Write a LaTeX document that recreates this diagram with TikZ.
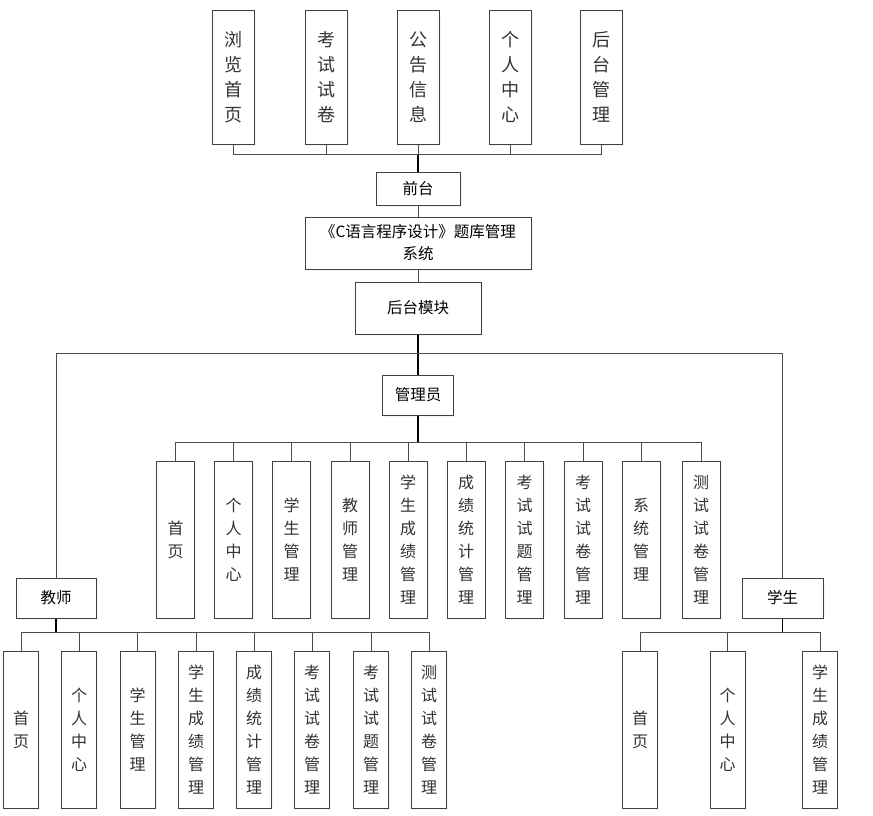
\documentclass[tikz,border=0pt]{standalone}
\usepackage{fontspec}
\setmainfont{Noto Sans CJK SC}
\usetikzlibrary{shadows}
\tikzstyle{link} = [draw=black!70, line width=1pt]
\tikzstyle{trunk} = [draw=black, line width=1.8pt]

\begin{document}
\begin{tikzpicture}[
			x=1pt, y=-1pt,
			every node/.style={draw=black!75, line width=1pt, fill=white, inner sep=0pt, align=center,
				drop shadow={shadow xshift=1.5pt, shadow yshift=-1.5pt, opacity=0.25, fill=blue!15}},
			hbox/.style={font=\fontsize{15.5}{22}\selectfont},
			vtop/.style={minimum width=42pt, minimum height=134pt, font=\fontsize{18}{25}\selectfont, text=black!80},
			vadm/.style={minimum width=38pt, minimum height=157pt, font=\fontsize{16}{23}\selectfont, text=black!80},
			vlow/.style={minimum width=35pt, minimum height=157pt, font=\fontsize{16}{23}\selectfont, text=black!80}
			]
			\useasboundingbox (0,0) rectangle (873,815);
			
			% Front-end pages
			\node[vtop] (q1) at (233,77) {浏\\览\\首\\页};
			\node[vtop] (q2) at (326,77) {考\\试\\试\\卷};
			\node[vtop] (q3) at (418,77) {公\\告\\信\\息};
			\node[vtop] (q4) at (510,77) {个\\人\\中\\心};
			\node[vtop] (q5) at (601,77) {后\\台\\管\\理};
			
			% Main column
			\node[hbox, minimum width=84pt, minimum height=33pt] (qt) at (418,188.5) {前台};
			\node[hbox, minimum width=226pt, minimum height=52pt] (sys) at (418,243) {《C语言程序设计》题库管理\\系统};
			\node[hbox, minimum width=126pt, minimum height=52pt] (ht) at (418,308) {后台模块};
			\node[hbox, minimum width=71pt, minimum height=40pt] (gly) at (418,395) {管理员};
			\node[hbox, minimum width=80pt, minimum height=40pt] (js) at (56,598) {教师};
			\node[hbox, minimum width=81pt, minimum height=40pt] (xs) at (782.5,598) {学生};
			
			% Administrator functions
			\node[vadm] (a1) at (175.5,539.5) {首\\页};
			\node[vadm] (a2) at (233.5,539.5) {个\\人\\中\\心};
			\node[vadm] (a3) at (291.5,539.5) {学\\生\\管\\理};
			\node[vadm] (a4) at (350,539.5) {教\\师\\管\\理};
			\node[vadm] (a5) at (408,539.5) {学\\生\\成\\绩\\管\\理};
			\node[vadm] (a6) at (466,539.5) {成\\绩\\统\\计\\管\\理};
			\node[vadm] (a7) at (524.5,539.5) {考\\试\\试\\题\\管\\理};
			\node[vadm] (a8) at (583,539.5) {考\\试\\试\\卷\\管\\理};
			\node[vadm] (a9) at (641,539.5) {系\\统\\管\\理};
			\node[vadm] (a10) at (701,539.5) {测\\试\\试\\卷\\管\\理};
			
			% Teacher functions
			\node[vlow] (t1) at (21,730) {首\\页};
			\node[vlow] (t2) at (79,730) {个\\人\\中\\心};
			\node[vlow] (t3) at (137.5,730) {学\\生\\管\\理};
			\node[vlow] (t4) at (196,730) {学\\生\\成\\绩\\管\\理};
			\node[vlow] (t5) at (254,730) {成\\绩\\统\\计\\管\\理};
			\node[vlow] (t6) at (312,730) {考\\试\\试\\卷\\管\\理};
			\node[vlow] (t7) at (371,730) {考\\试\\试\\题\\管\\理};
			\node[vlow] (t8) at (429,730) {测\\试\\试\\卷\\管\\理};
			
			% Student functions
			\node[vlow] (s1) at (640,730) {首\\页};
			\node[vlow] (s2) at (727.5,730) {个\\人\\中\\心};
			\node[vlow] (s3) at (820,730) {学\\生\\成\\绩\\管\\理};
			
			% Bus points
			\coordinate (qbus) at (418,154);
			\coordinate (hbus) at (418,353);
			\coordinate (abus) at (418,442);
			\coordinate (tbus) at (56,632);
			\coordinate (sbus) at (782.5,632);
			
			% Front-end links
			\draw[trunk] (qt.north) -- (qbus);
			\draw[link] (qbus) -| (q1.south);
			\draw[link] (qbus) -| (q2.south);
			\draw[link] (qbus) -- (q3.south);
			\draw[link] (qbus) -| (q4.south);
			\draw[link] (qbus) -| (q5.south);
			\draw[link] (qt.south) -- (sys.north);
			\draw[link] (sys.south) -- (ht.north);
			
			% Back-end roles
			\draw[trunk] (ht.south) -- (gly.north);
			\draw[link] (hbus) -| (js.north);
			\draw[link] (hbus) -| (xs.north);
			
			% Administrator links
			\draw[trunk] (gly.south) -- (abus);
			\draw[link] (abus) -| (a1.north);
			\draw[link] (abus) -| (a2.north);
			\draw[link] (abus) -| (a3.north);
			\draw[link] (abus) -| (a4.north);
			\draw[link] (abus) -| (a5.north);
			\draw[link] (abus) -| (a6.north);
			\draw[link] (abus) -| (a7.north);
			\draw[link] (abus) -| (a8.north);
			\draw[link] (abus) -| (a9.north);
			\draw[link] (abus) -| (a10.north);
			
			% Teacher links
			\draw[trunk] (js.south) -- (tbus);
			\draw[link] (tbus) -| (t1.north);
			\draw[link] (tbus) -| (t2.north);
			\draw[link] (tbus) -| (t3.north);
			\draw[link] (tbus) -| (t4.north);
			\draw[link] (tbus) -| (t5.north);
			\draw[link] (tbus) -| (t6.north);
			\draw[link] (tbus) -| (t7.north);
			\draw[link] (tbus) -| (t8.north);
			
			% Student links
			\draw[trunk] (xs.south) -- (sbus);
			\draw[link] (sbus) -| (s1.north);
			\draw[link] (sbus) -| (s2.north);
			\draw[link] (sbus) -| (s3.north);
			
		\end{tikzpicture}
\end{document}
